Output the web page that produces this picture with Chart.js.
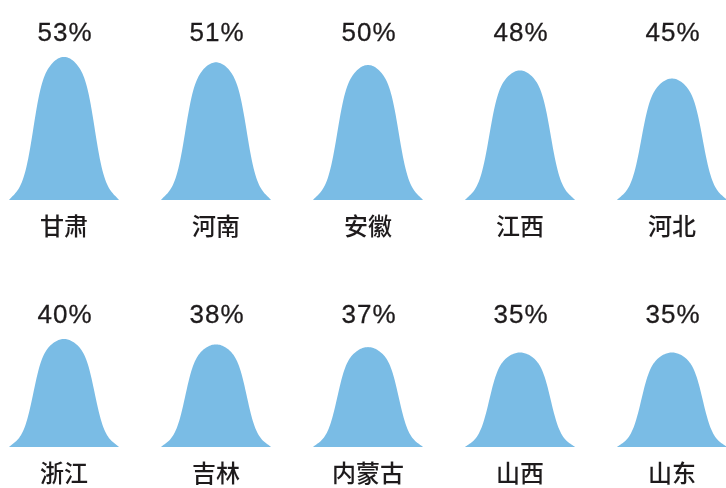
<!DOCTYPE html>
<html>
<head>
<meta charset="utf-8">
<script src="https://cdn.jsdelivr.net/npm/chart.js"></script>
<style>
  html, body { margin: 0; padding: 0; background: #fff; overflow: hidden; }
  .row { position: absolute; left: -12px; width: 760px; height: 244px; }
</style>
</head>
<body>
<div class="row" style="top:0"><canvas id="rowTop"></canvas></div>
<div class="row" style="top:244px"><canvas id="rowBottom"></canvas></div>
<script>
// top row
const topNames = ['甘肃', '河南', '安徽', '江西', '河北'];
const topValues = [53, 51, 50, 48, 45];
// bottom row
const bottomNames = ['浙江', '吉林', '内蒙古', '山西', '山东'];
const bottomValues = [40, 38, 37, 35, 35];

const BELL_COLOR = '#7abce5';
const TEXT_COLOR = '#1e1b1c';

// bell profile, 1 at the centre, 0 at the bar edges (u = -1..1)
function bellShape(u) {
  const a = Math.abs(u);
  const core = 1 / (1 + a * a + Math.pow(a / 0.588, 7));
  return core * (1 - Math.pow(a, 20));
}

// draws each bar as a bell curve, plus the value above and the name below
const bellPlugin = {
  id: 'bells',
  beforeDatasetsDraw(chart) {
    const ctx = chart.ctx;
    const yScale = chart.scales.y;
    const values = chart.data.datasets[0].data;
    const bars = chart.getDatasetMeta(0).data;
    const labelY = yScale.getPixelForValue(Math.max(...values)) - 23;

    bars.forEach((bar, i) => {
      const p = bar.getProps(['x', 'y', 'base', 'width'], true);
      const half = p.width / 2;
      const h = p.base - p.y;
      ctx.save();
      ctx.beginPath();
      ctx.moveTo(p.x - half, p.base);
      const steps = 120;
      for (let s = 0; s <= steps; s++) {
        const u = -1 + (2 * s) / steps;
        ctx.lineTo(p.x + u * half, p.base - h * bellShape(u));
      }
      ctx.lineTo(p.x + half, p.base);
      ctx.closePath();
      ctx.fillStyle = BELL_COLOR;
      ctx.fill();

      ctx.fillStyle = TEXT_COLOR;
      ctx.strokeStyle = TEXT_COLOR;
      ctx.textAlign = 'center';
      ctx.textBaseline = 'middle';
      ctx.font = '26px "Liberation Sans", Arial, sans-serif';
      if ('letterSpacing' in ctx) ctx.letterSpacing = '1px';
      ctx.lineWidth = 0.3;
      ctx.fillText(values[i] + '%', p.x + 1, labelY);
      ctx.strokeText(values[i] + '%', p.x + 1, labelY);
      if ('letterSpacing' in ctx) ctx.letterSpacing = '0px';
      ctx.font = '500 24px "Noto Sans CJK SC", sans-serif';
      ctx.fillText(chart.data.labels[i], p.x, p.base + 26);
      ctx.restore();
    });
    return false;
  }
};

function makeRow(id, names, values, padTop, padBottom) {
  new Chart(document.getElementById(id), {
    type: 'bar',
    data: {
      labels: names,
      datasets: [{
        data: values,
        backgroundColor: BELL_COLOR,
        categoryPercentage: 1,
        barPercentage: 0.724
      }]
    },
    options: {
      responsive: true,
      maintainAspectRatio: false,
      animation: false,
      layout: { padding: { top: padTop, bottom: padBottom, left: 0, right: 0 } },
      plugins: { legend: { display: false }, tooltip: { enabled: false } },
      scales: {
        x: { display: false, offset: true },
        y: { display: false, min: 0, max: 60 }
      }
    },
    plugins: [bellPlugin]
  });
}

makeRow('rowTop', topNames, topValues, 38, 44);
makeRow('rowBottom', bottomNames, bottomValues, 41, 41);
</script>
</body>
</html>
